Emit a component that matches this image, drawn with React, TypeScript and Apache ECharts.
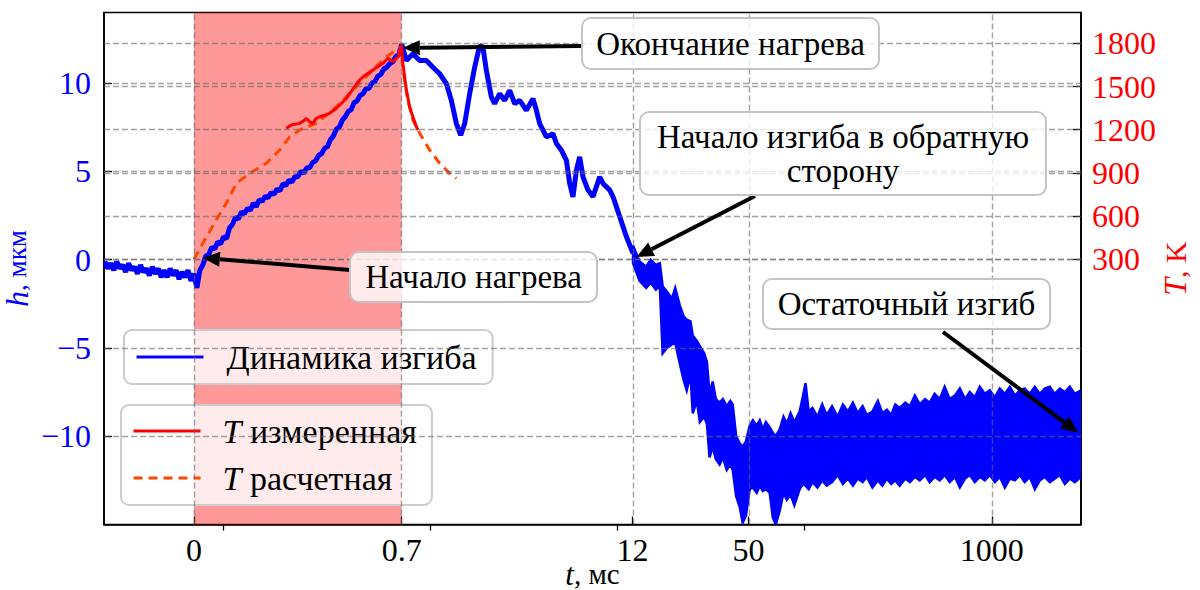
import React, { useEffect, useRef } from 'react';
import * as echarts from 'echarts';

const FONT = 'Liberation Serif';

// ---- x scale: linear up to 0.7 ms, logarithmic afterwards ----
const X_MIN_MS = -0.303;
const X_MAX_MS = 3000;
const LIN_END = 0.7;
const LOG_SPAN = 0.6303; // linear-equivalent ms per decade
function xs(t: number): number {
  return t <= LIN_END ? t : LIN_END + LOG_SPAN * Math.log10(t / LIN_END);
}

// ---- tick definitions ----
const xTickTimes = [0, 0.7, 12, 50, 1000];
const xTickLabels = ['0', '0.7', '12', '50', '1000'];
const xMinorTimes = [0.1, 1, 10, 100];
const yLeftTicks = [-10, -5, 0, 5, 10];
const yRightTicks = [300, 600, 900, 1200, 1500, 1800];

// ---- blue: bending dynamics h (μm) vs t (ms), line part ----
const blueTime = [
  -0.30, -0.29, -0.28, -0.27, -0.26, -0.25, -0.24, -0.23, -0.22, -0.21, -0.20, -0.19, -0.18, -0.17, -0.16,
  -0.15, -0.14, -0.13, -0.12, -0.11, -0.10, -0.09, -0.08, -0.07, -0.06, -0.05, -0.04, -0.03, -0.02, -0.01,
  0.00, 0.01, 0.02, 0.03, 0.04, 0.05, 0.06, 0.07, 0.08, 0.09, 0.10, 0.11, 0.12, 0.13, 0.14, 0.15, 0.16,
  0.17, 0.18, 0.19, 0.20, 0.21, 0.22, 0.23, 0.24, 0.25, 0.26, 0.27, 0.28, 0.29, 0.30, 0.31, 0.32, 0.33,
  0.34, 0.35, 0.36, 0.37, 0.38, 0.39, 0.40, 0.41, 0.42, 0.43, 0.44, 0.45, 0.46, 0.47, 0.48, 0.49, 0.50,
  0.51, 0.52, 0.53, 0.54, 0.55, 0.56, 0.57, 0.58, 0.59, 0.60, 0.61, 0.62, 0.63, 0.64, 0.65, 0.66, 0.67,
  0.68, 0.69, 0.70,
  0.742, 0.805, 0.874, 0.949, 1.029, 1.118, 1.214, 1.291, 1.373, 1.448, 1.521, 1.617, 1.720, 1.829, 1.905,
  1.986, 2.112, 2.200, 2.340, 2.488, 2.646, 2.814, 2.993, 3.250, 3.525, 3.676, 3.829, 4.158, 4.511, 4.704,
  5.002, 5.320, 5.540, 5.770, 6.017, 6.265, 6.525, 6.940, 7.381, 8.018, 8.350, 9.071, 9.447, 9.850, 10.26,
  11.14, 12.08,
];
const blueH = [
  -0.1, -0.5, -0.2, -0.6, -0.1, -0.5, -0.3, -0.7, -0.2, -0.6, -0.4, -0.8, -0.3, -0.7, -0.5,
  -0.9, -0.4, -0.8, -0.5, -1.0, -0.6, -1.0, -0.5, -0.9, -0.6, -1.1, -0.7, -1.0, -0.6, -1.2,
  -0.8, -1.6, -0.6, -0.3, 0.2, 0.3, 0.7, 0.6, 1.0, 0.9, 1.3, 1.2, 1.8, 2.0, 2.4, 2.3, 2.7,
  2.6, 2.9, 2.8, 3.2, 3.0, 3.4, 3.3, 3.6, 3.5, 3.8, 3.7, 4.0, 3.9, 4.3, 4.2, 4.5, 4.4,
  4.7, 4.7, 5.0, 4.9, 5.2, 5.2, 5.5, 5.6, 5.9, 6.0, 6.3, 6.4, 6.8, 7.0, 7.4, 7.5, 7.9,
  8.1, 8.4, 8.5, 8.9, 9.0, 9.3, 9.4, 9.7, 9.7, 10.0, 10.1, 10.4, 10.5, 10.8, 10.9, 11.1, 11.2,
  11.5, 11.6, 12.2,
  11.28, 11.66, 11.28, 11.28, 10.90, 10.53, 9.97, 9.02, 7.71, 7.05, 7.71, 9.40, 10.90, 12.13, 12.03,
  10.72, 9.21, 8.84, 9.40, 9.02, 9.59, 8.84, 9.02, 8.46, 9.12, 8.46, 7.71, 6.95, 7.14, 6.58,
  6.20, 5.63, 4.32, 3.56, 5.07, 5.82, 4.69, 3.94, 3.56, 4.69, 4.32, 3.94, 3.56, 2.99, 2.43,
  1.30, 0.36,
];

// ---- blue: noisy tail, envelope of the signal ----
const bandTime = [
  12.08, 13.1, 14.2, 15.0, 16.0, 16.8, 17.4, 18.3, 19.5, 20.3, 21.5, 22.5, 23.4, 24.5, 25.2, 26.5, 27.5,
  29.0, 30.0, 31.0, 32.2, 33.5, 35.1, 36.5, 38.3, 40.0, 41.2, 43.0, 44.9, 46.6, 48.5, 50.8, 52.8, 55.4,
  57.5, 59.7, 62.0, 65.0, 67.5, 70.0, 73.6, 77.0, 80.2, 84.0, 88.0, 94.0, 98.0, 101, 105, 110, 117, 124,
  131, 140, 150, 160, 170, 181, 192, 204, 215, 230, 246, 260, 275, 290, 305, 322, 345, 365, 388, 412,
  440, 466, 495, 527, 560, 596, 635, 675, 720, 763, 812, 863, 918, 976, 1040, 1104, 1175, 1249, 1330,
  1412, 1500, 1597, 1700, 1807, 1920, 2043, 2170, 2311, 2460, 2614, 2780, 3000,
];
const bandUpper = [
  0.8, -0.1, -0.4, 0.0, -0.3, -0.2, -1.5, -1.8, -2.2, -1.6, -2.6, -3.2, -3.4, -3.5, -4.3, -4.6, -4.9,
  -5.3, -5.8, -7.6, -6.9, -7.9, -8.1, -7.9, -8.3, -8.0, -8.2, -10.0, -10.4, -10.6, -10.3, -9.4, -9.1, -9.4,
  -9.1, -9.6, -9.2, -9.5, -9.8, -10.0, -9.6, -8.9, -9.3, -8.7, -9.2, -8.6, -7.7, -7.0, -8.6, -8.4, -8.9, -8.2,
  -8.8, -8.3, -8.9, -8.2, -8.6, -8.1, -8.7, -8.3, -8.8, -8.6, -8.0, -8.7, -8.5, -8.8, -8.2, -8.4, -8.1, -8.3, -7.7, -8.2,
  -7.9, -8.1, -7.6, -7.9, -7.2, -7.9, -7.7, -7.3, -7.9, -7.5, -7.8, -7.2, -7.6, -7.4, -7.8, -7.3, -7.6, -7.2, -7.7,
  -7.4, -7.3, -7.6, -7.2, -7.6, -7.3, -7.2, -7.6, -7.3, -7.5, -7.2, -7.6, -7.4,
];
const bandLower = [
  -0.2, -1.2, -1.6, -1.3, -1.7, -1.5, -5.3, -5.0, -4.8, -4.7, -5.9, -6.8, -7.4, -6.5, -8.7, -8.0, -9.2,
  -8.9, -9.3, -11.2, -10.6, -11.3, -11.6, -11.2, -11.9, -11.6, -11.9, -13.4, -14.0, -14.9, -14.5, -13.0, -12.9, -13.2,
  -12.8, -13.1, -13.0, -13.2, -14.6, -15.0, -14.2, -13.2, -13.6, -13.3, -13.9, -13.0, -12.7, -12.8, -13.0, -12.6, -12.9, -12.5,
  -12.8, -12.6, -12.2, -12.7, -12.4, -12.8, -12.4, -12.6, -12.3, -12.9, -12.5, -12.8, -12.4, -12.7, -12.5, -12.8, -12.4, -12.6, -12.3, -12.5,
  -12.2, -12.6, -12.3, -12.5, -12.2, -12.6, -12.3, -12.9, -12.4, -12.2, -12.6, -12.3, -12.5, -12.2, -12.6, -12.3, -12.9, -12.4, -12.5,
  -12.2, -12.6, -12.3, -13.0, -12.5, -12.3, -12.6, -12.4, -12.2, -12.7, -12.4, -12.6, -12.3,
];

// ---- measured temperature (K) ----
const tMeasTime = [
  0.311, 0.33, 0.356, 0.37, 0.379, 0.39, 0.401, 0.41, 0.424, 0.44, 0.457, 0.480, 0.514, 0.553, 0.570, 0.603,
  0.637, 0.654, 0.671, 0.688, 0.699, 0.711, 0.742, 0.772, 0.804, 0.839, 0.856,
];
const tMeasK = [
  1210, 1235, 1244, 1262, 1279, 1255, 1244, 1275, 1290, 1300, 1314, 1349, 1418, 1533, 1568, 1615,
  1661, 1696, 1672, 1707, 1788, 1661, 1476, 1360, 1290, 1221, 1198,
];

// ---- calculated temperature (K) ----
const tCalcTime = [
  0.0, 0.030, 0.075, 0.109, 0.143, 0.188, 0.244, 0.289, 0.323, 0.356, 0.412, 0.468, 0.536, 0.603, 0.648,
  0.682, 0.699, 0.711, 0.755, 0.804, 0.874, 0.988, 1.117, 1.264, 1.373,
];
const tCalcK = [
  300, 411, 573, 689, 828, 897, 967, 1059, 1151, 1198, 1244, 1337, 1476, 1615, 1707,
  1753, 1776, 1614, 1406, 1267, 1175, 1059, 967, 897, 862,
];

// ---- annotations: targets in data units ----
const annTexts = ['Окончание нагрева', 'Начало нагрева', 'Начало изгиба в обратную\nсторону', 'Остаточный изгиб'];
const annTargetT = [0.71, 0.03, 12.6, 2900];
const annTargetH = [12.0, 0.1, 0.15, -9.8];
// layout of the boxes (pixels)
const annBoxes = [
  { x: 582, y: 18, w: 297, h: 51, tail: [582, 46] },
  { x: 350, y: 252, w: 247, h: 50, tail: [350, 270] },
  { x: 640, y: 112, w: 406, h: 83, tail: [755, 196] },
  { x: 763, y: 279, w: 287, h: 50, tail: [943, 332] },
];

const GRID_LINE = { color: 'rgba(100,100,100,0.6)', type: [6, 3] as any, width: 1.4 };
const TICK_FS = 32;

export default function App() {
  const ref = useRef<HTMLDivElement>(null);
  useEffect(() => {
    if (!ref.current) return;
    const chart = echarts.init(ref.current, undefined, { renderer: 'svg' });

    const bluePts = blueTime.map((t, i) => [xs(t), blueH[i]]);
    const measPts = tMeasTime.map((t, i) => [xs(t), tMeasK[i]]);
    const calcPts = tCalcTime.map((t, i) => [xs(t), tCalcK[i]]);

    const legendBase = {
      selectedMode: false,
      itemWidth: 67, itemHeight: 14,
      borderColor: '#cccccc', borderWidth: 2, borderRadius: 8, backgroundColor: 'rgba(255,255,255,0.8)',
      itemStyle: { opacity: 0 },
      lineStyle: { width: 3 },
    };

    const option: any = {
      animation: false,
      backgroundColor: '#ffffff',
      textStyle: { fontFamily: FONT },
      grid: {
        left: 104, right: 119, top: 12.5, bottom: 65.5, show: true, borderColor: '#000', borderWidth: 1.6,
        containLabel: false, outerBoundsMode: 'none',
      },
      xAxis: [
        {
          type: 'value',
          min: xs(X_MIN_MS),
          max: xs(X_MAX_MS),
          position: 'bottom',
          axisLine: { show: true, onZero: false, lineStyle: { color: '#000', width: 1.6 } },
          splitLine: { show: false },
          axisTick: { show: true, customValues: xTickTimes.map(xs), inside: true, length: 8, lineStyle: { color: '#000', width: 1.3 } },
          axisLabel: {
            customValues: xTickTimes.map(xs),
            formatter: (v: number) => {
              const i = xTickTimes.findIndex((t) => Math.abs(xs(t) - v) < 1e-6);
              return i >= 0 ? xTickLabels[i] : '';
            },
            fontFamily: FONT, fontSize: TICK_FS, color: '#000', margin: 9,
          },
          name: '{i|t}, мс',
          nameLocation: 'middle',
          nameGap: 34,
          nameMoveOverlap: false,
          nameTextStyle: { fontFamily: FONT, fontSize: 29, color: '#000', rich: { i: { fontFamily: FONT, fontStyle: 'italic', fontSize: 31 } } },
        },
        {
          type: 'value',
          min: xs(X_MIN_MS),
          max: xs(X_MAX_MS),
          position: 'bottom',
          axisLine: { show: false, onZero: false },
          splitLine: { show: false },
          axisLabel: { show: false },
          axisTick: { show: true, customValues: xMinorTimes.map(xs), inside: false, length: 6, lineStyle: { color: '#000', width: 1.3 } },
        },
      ],
      yAxis: [
        {
          type: 'value', min: -15, max: 14, interval: 5, position: 'left',
          axisLine: { show: true, onZero: false, lineStyle: { color: '#000', width: 1.6 } },
          axisTick: { show: true, inside: true, length: 8, lineStyle: { color: '#000', width: 1.3 } },
          splitLine: { show: false },
          axisLabel: {
            showMinLabel: false, showMaxLabel: false,
            formatter: (v: number) => (yLeftTicks.indexOf(v) < 0 ? '' : v < 0 ? '\u2212' + Math.abs(v) : String(v)),
            color: '#0000ff', fontFamily: FONT, fontSize: TICK_FS, margin: 13,
          },
          name: '{i|h}, мкм',
          nameLocation: 'middle', nameRotate: 90, nameGap: 71,
          nameMoveOverlap: false,
          nameTextStyle: { color: '#0000ff', fontFamily: FONT, fontSize: 27, rich: { i: { color: '#0000ff', fontFamily: FONT, fontStyle: 'italic', fontSize: 32 } } },
        },
        {
          type: 'value', min: -1542, max: 2014, position: 'right',
          axisLine: { show: true, onZero: false, lineStyle: { color: '#000', width: 1.6 } },
          axisTick: { show: true, customValues: yRightTicks, inside: true, length: 8, lineStyle: { color: '#000', width: 1.3 } },
          splitLine: { show: false },
          axisLabel: { customValues: yRightTicks, formatter: (v: number) => String(v), color: '#ff0000', fontFamily: FONT, fontSize: TICK_FS, margin: 11 },
          name: '{i|T}, K',
          nameLocation: 'middle', nameRotate: 90, nameGap: 78,
          nameMoveOverlap: false,
          nameTextStyle: { color: '#ff0000', fontFamily: FONT, fontSize: 30, rich: { i: { color: '#ff0000', fontFamily: FONT, fontStyle: 'italic', fontSize: 32 } } },
        },
      ],
      legend: [
        {
          ...legendBase,
          data: ['Динамика изгиба'], left: 124, top: 330, orient: 'horizontal',
          padding: [10, 16, 10, 11],
          textStyle: { fontFamily: FONT, fontSize: 34, lineHeight: 34, color: '#000', padding: [0, 0, 0, 18] },
        },
        {
          ...legendBase,
          data: ['T измеренная', 'T расчетная'], left: 121, top: 405, orient: 'vertical',
          itemGap: 13,
          padding: [9, 15, 10, 11],
          formatter: (name: string) => '{i|T}' + name.slice(1),
          textStyle: {
            fontFamily: FONT, fontSize: 34, lineHeight: 34, color: '#000', padding: [0, 0, 0, 17],
            rich: { i: { fontFamily: FONT, fontStyle: 'italic', fontSize: 34, lineHeight: 34, color: '#000' } },
          },
        },
      ],
      series: [
        {
          type: 'line', name: '_heat', data: [], z: 1, silent: true,
          markArea: { silent: true, itemStyle: { color: 'rgba(255,0,0,0.4)' }, data: [[{ xAxis: xs(0) }, { xAxis: xs(0.7) }]] },
        },
        {
          type: 'line', name: '_gridL', data: [], z: 1.5, silent: true,
          markLine: {
            silent: true, symbol: ['none', 'none'], label: { show: false }, lineStyle: GRID_LINE,
            data: [...xTickTimes.map((t) => ({ xAxis: xs(t) })), ...yLeftTicks.map((v) => ({ yAxis: v }))],
          },
        },
        {
          type: 'line', name: '_gridR', yAxisIndex: 1, data: [], z: 1.5, silent: true,
          markLine: {
            silent: true, symbol: ['none', 'none'], label: { show: false }, lineStyle: GRID_LINE,
            data: yRightTicks.map((v) => ({ yAxis: v })),
          },
        },
        {
          type: 'line', name: 'Динамика изгиба', data: bluePts, symbol: 'none', z: 3,
          lineStyle: { color: '#0000ff', width: 5 }, itemStyle: { color: '#0000ff' },
        },
        {
          type: 'custom', name: '_band', z: 3, silent: true, clip: true,
          data: [[xs(bandTime[0]), bandUpper[0]]],
          renderItem: (params: any, api: any) => {
            const up = bandTime.map((t, i) => api.coord([xs(t), bandUpper[i]]));
            const lo = bandTime.map((t, i) => api.coord([xs(t), bandLower[i]])).reverse();
            return { type: 'polygon', shape: { points: up.concat(lo) }, style: { fill: '#0000ff', stroke: '#0000ff', lineWidth: 2.5 } };
          },
        },
        {
          type: 'line', name: 'T расчетная', yAxisIndex: 1, data: calcPts, symbol: 'none', z: 4,
          lineStyle: { color: '#ff4500', width: 3, type: [9, 6] }, itemStyle: { color: '#ff4500' },
        },
        {
          type: 'line', name: 'T измеренная', yAxisIndex: 1, data: measPts, symbol: 'none', z: 5,
          lineStyle: { color: '#ff0000', width: 3 }, itemStyle: { color: '#ff0000' },
        },
      ],
    };
    chart.setOption(option);

    // annotations (arrows + boxes)
    const graphics: any[] = [];
    annTexts.forEach((txt, i) => {
      const box = annBoxes[i];
      const tip = chart.convertToPixel({ xAxisIndex: 0, yAxisIndex: 0 }, [xs(annTargetT[i]), annTargetH[i]]) as number[];
      const [x0, y0] = box.tail;
      const dx = tip[0] - x0, dy = tip[1] - y0;
      const len = Math.sqrt(dx * dx + dy * dy);
      const ux = dx / len, uy = dy / len;
      const L = 17, W = 7.5;
      const bx = tip[0] - ux * L, by = tip[1] - uy * L;
      graphics.push({
        type: 'line', z: 50, silent: true,
        shape: { x1: x0, y1: y0, x2: bx, y2: by },
        style: { stroke: '#000', lineWidth: 4 },
      });
      graphics.push({
        type: 'polygon', z: 50, silent: true,
        shape: { points: [[tip[0], tip[1]], [bx - uy * W, by + ux * W], [bx + uy * W, by - ux * W]] },
        style: { fill: '#000' },
      });
      graphics.push({
        type: 'rect', z: 60, silent: true,
        shape: { x: box.x, y: box.y, width: box.w, height: box.h, r: 9 },
        style: { fill: 'rgba(255,255,255,0.8)', stroke: '#c4c4c4', lineWidth: 2 },
      });
      graphics.push({
        type: 'text', z: 61, silent: true,
        x: box.x + box.w / 2, y: box.y + box.h / 2,
        style: { text: txt, align: 'center', verticalAlign: 'middle', fontFamily: FONT, fontSize: 33, lineHeight: 34, fill: '#000' },
      });
    });
    chart.setOption({ graphic: graphics });

    return () => chart.dispose();
  }, []);
  return <div ref={ref} style={{ position: 'absolute', left: 0, top: 0, width: 1200, height: 590 }} />;
}
